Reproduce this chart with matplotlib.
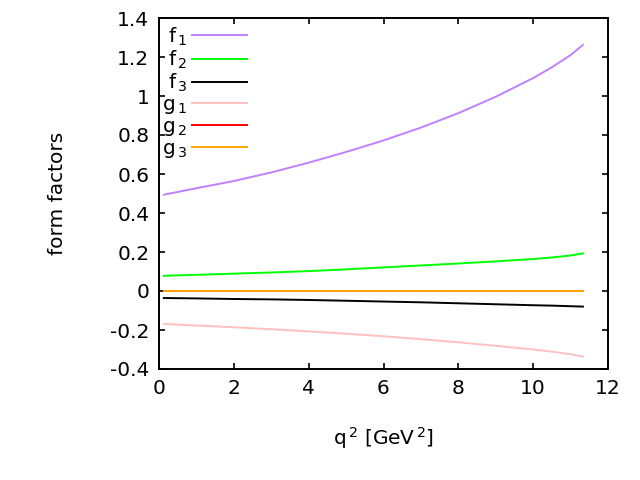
import numpy as np
import matplotlib
matplotlib.use("Agg")
import matplotlib.pyplot as plt

plt.rcParams['font.family'] = ['DejaVu Sans']
plt.rcParams['mathtext.fontset'] = 'dejavusans'

# values
q2 = [0.13, 1, 2, 3, 4, 5, 6, 7, 8, 9, 10, 10.5, 11, 11.33]
f1 = [0.494, 0.527, 0.564, 0.608, 0.658, 0.713, 0.772, 0.838, 0.912, 0.996, 1.092, 1.147, 1.21, 1.262]
f2 = [0.078, 0.083, 0.089, 0.095, 0.102, 0.111, 0.121, 0.131, 0.141, 0.152, 0.164, 0.172, 0.182, 0.193]
f3 = [-0.036, -0.038, -0.041, -0.043, -0.046, -0.05, -0.054, -0.058, -0.063, -0.068, -0.073, -0.075, -0.078, -0.08]
g1 = [-0.169, -0.177, -0.186, -0.196, -0.207, -0.219, -0.232, -0.247, -0.263, -0.281, -0.30, -0.311, -0.324, -0.337]
g2 = [0.0] * len(q2)
g3 = [0.0] * len(q2)

names = [r'f$_{\,1}$', r'f$_{\,2}$', r'f$_{\,3}$', r'g$_{\,1}$', r'g$_{\,2}$', r'g$_{\,3}$']
colors = ['#c080ff', '#00ff00', '#000000', '#ffc0c0', '#ff0000', '#ffa500']
yticklabels = ['-0.4', '-0.2', '0', '0.2', '0.4', '0.6', '0.8', '1', '1.2', '1.4']

fig = plt.figure(figsize=(6.4, 4.8), dpi=100)
ax = fig.add_axes([159/640, 1-369/480, 449/640, 351/480])

for ys, nm, c in zip([f1, f2, f3, g1, g2, g3], names, colors):
    ax.plot(q2, ys, color=c, lw=1.4, label=nm)

ax.set_xlim(0, 12)
ax.set_ylim(-0.4, 1.4)
ax.set_xticks(np.arange(0, 13, 2))
ax.set_yticks(np.linspace(-0.4, 1.4, 10))
ax.set_yticklabels(yticklabels)
ax.tick_params(direction='in', length=4, width=1.2, top=True, right=True,
               labelsize=14.5, pad=7)
for s in ax.spines.values():
    s.set_linewidth(1.4)

ax.set_xlabel(r'q$^{\,2}$ [GeV$^{\,2}$]', fontsize=14.5, labelpad=20)
ax.set_ylabel('form factors', fontsize=14.5, labelpad=31)

ax.legend(loc='upper left', bbox_to_anchor=(0.007, 0.979), frameon=False,
          markerfirst=False, fontsize=14.5, handlelength=2.7, handletextpad=0.25,
          labelspacing=0.05, borderaxespad=0, borderpad=0)

fig.savefig('out.png', dpi=100)
